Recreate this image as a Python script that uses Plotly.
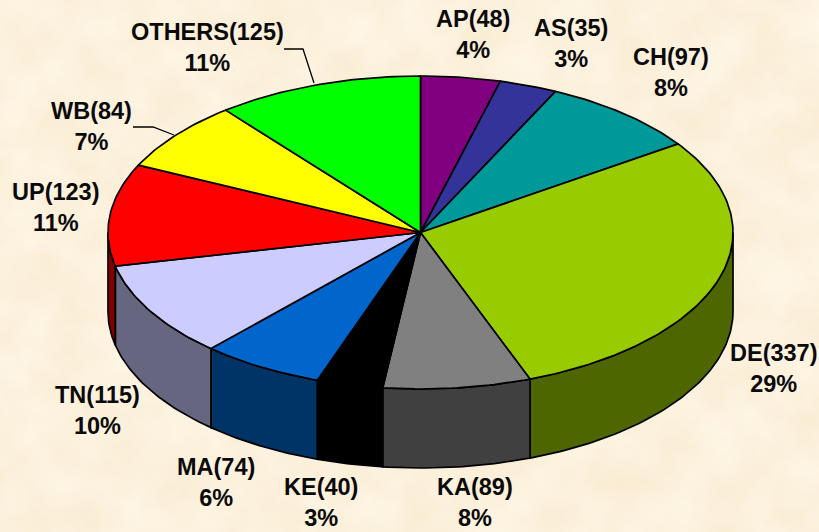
import numpy as np
import plotly.graph_objects as go
from urllib.parse import quote

states = ["AP", "AS", "CH", "DE", "KA", "KE", "MA", "TN", "UP", "WB", "OTHERS"]
counts = [48, 35, 97, 337, 89, 40, 74, 115, 123, 84, 125]
percents = [4, 3, 8, 29, 8, 3, 6, 10, 11, 7, 11]
top_colors = ["#800080", "#333399", "#009999", "#99CC00", "#808080", "#000000",
              "#0066CC", "#CCCCFF", "#FF0000", "#FFFF00", "#00FF00"]
side_colors = ["#400040", "#1A1A4D", "#004D4D", "#4D6600", "#404040", "#000000",
               "#003366", "#666680", "#800000", "#808000", "#008000"]
label_x = [473, 571, 671, 774, 475, 321, 216, 97, 56, 91, 207]
label_y = [34, 43, 72, 368, 502, 502, 482, 410, 207, 126, 47]

CX, CY, RX, RY, DEPTH = 420.5, 232.5, 312.5, 156.5, 79
BG = "#FBF0DC"
LINE = dict(color="#000000", width=1.7)

# Soft parchment mottling for the page background
TEXTURE = (
    "<svg xmlns='http://www.w3.org/2000/svg' width='819' height='532'>"
    "<filter id='p' x='0' y='0' width='100%' height='100%' color-interpolation-filters='sRGB'>"
    "<feTurbulence type='fractalNoise' baseFrequency='0.02' numOctaves='5' seed='7'/>"
    "<feColorMatrix type='matrix' values='0.025 0 0 0 0.975  0.05 0 0 0 0.92  0.10 0 0 0 0.815  0 0 0 0 1'/>"
    "</filter><rect width='819' height='532' filter='url(#p)'/></svg>"
)


def rim(a0, a1, dy=0.0, step=1.0):
    n = max(2, int(abs(a1 - a0) / step) + 2)
    a = np.radians(np.linspace(a0, a1, n))
    return CX + RX * np.sin(a), CY - RY * np.cos(a) + dy


fig = go.Figure()
total = sum(counts)
edges = np.concatenate([[0], np.cumsum(counts)]) / total * 360

for i, s in enumerate(states):
    a0, a1 = max(edges[i], 90), min(edges[i + 1], 270)
    if a1 <= a0:
        continue
    xt, yt = rim(a0, a1)
    xb, yb = rim(a1, a0, DEPTH)
    fig.add_trace(go.Scatter(x=np.r_[xt, xb, xt[0]], y=np.r_[yt, yb, yt[0]], mode="lines",
                             fill="toself", fillcolor=side_colors[i], line=LINE,
                             hoverinfo="skip", showlegend=False))

for i, s in enumerate(states):
    xt, yt = rim(edges[i], edges[i + 1])
    fig.add_trace(go.Scatter(x=np.r_[CX, xt, CX], y=np.r_[CY, yt, CY], mode="lines",
                             fill="toself", fillcolor=top_colors[i], line=LINE,
                             name=s, text=f"{s}: {counts[i]} ({percents[i]}%)",
                             hoverinfo="text", showlegend=False))

leaders = [([284, 303, 314], [49, 49, 83]), ([133, 153, 174], [127, 127, 135])]
for lx, ly in leaders:
    fig.add_trace(go.Scatter(x=lx, y=ly, mode="lines", line=dict(color="#000000", width=1.3),
                             hoverinfo="skip", showlegend=False))

for i, s in enumerate(states):
    fig.add_annotation(x=label_x[i], y=label_y[i], xref="x", yref="y", showarrow=False,
                       text=f"<b>{s}({counts[i]})<br>{percents[i]}%</b>", align="center",
                       font=dict(family="Liberation Sans", size=23.5, color="#0A0A0A"))

fig.update_layout(width=819, height=532, margin=dict(l=0, r=0, t=0, b=0),
                  paper_bgcolor=BG, plot_bgcolor="rgba(0,0,0,0)",
                  images=[dict(source="data:image/svg+xml," + quote(TEXTURE), xref="paper", yref="paper",
                               x=0, y=1, sizex=1, sizey=1, xanchor="left", yanchor="top",
                               sizing="stretch", layer="below")],
                  xaxis=dict(range=[0, 819], visible=False, fixedrange=True),
                  yaxis=dict(range=[532, 0], visible=False, fixedrange=True))
fig.write_html("out.html", config={"displayModeBar": False},
               post_script=f"document.body.style.margin='0';document.body.style.background='{BG}';"
                           "document.body.style.overflow='hidden';")
